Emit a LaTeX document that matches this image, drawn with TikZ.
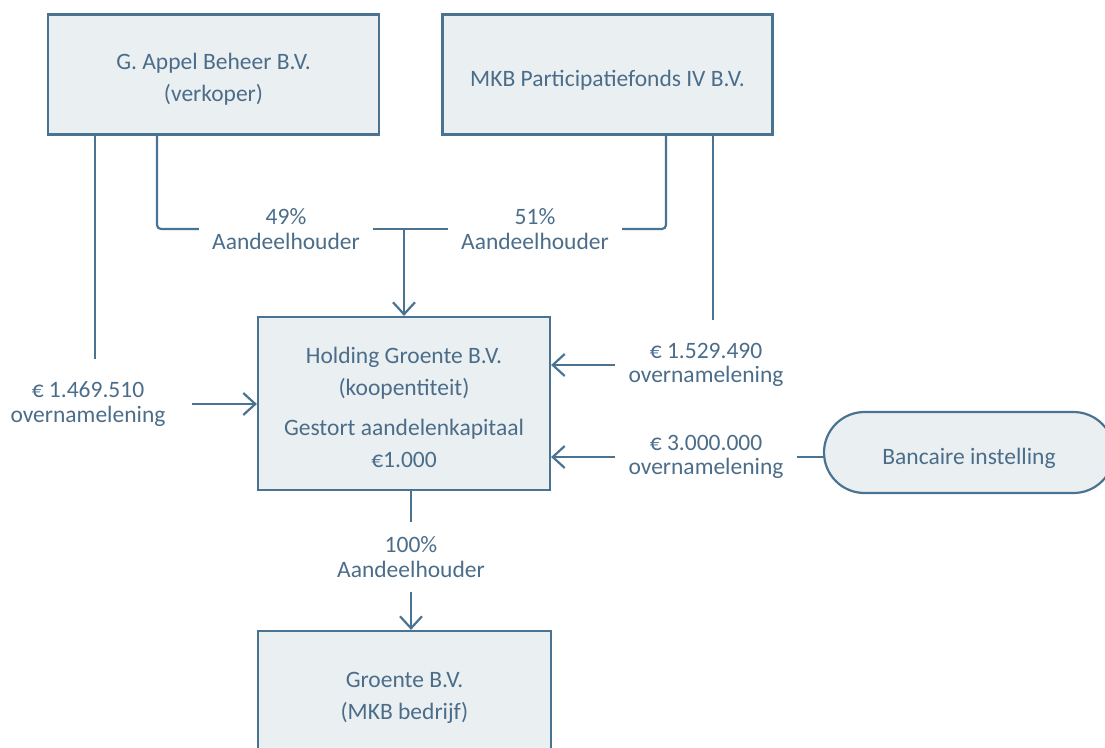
\documentclass[tikz,border=0pt]{standalone}
\usepackage{fontspec}
\setmainfont{Carlito}
\usepackage{tikz}
\usetikzlibrary{arrows.meta, positioning}
\usepackage{xcolor}
\definecolor{lijn}{HTML}{4A7392}
\definecolor{vul}{HTML}{EAEFF2}
\definecolor{tekst}{HTML}{4B6D89}

\begin{document}
\begin{tikzpicture}[x=1pt,y=-1pt,
	blok/.style={draw=lijn, fill=vul, line width=2.2pt},
	bloktekst/.style={text=tekst, align=center, font=\fontsize{23.5pt}{32pt}\selectfont},
	bijschrift/.style={text=tekst, align=center, inner xsep=13pt, inner ysep=14pt, font=\fontsize{23.5pt}{24.5pt}\selectfont},
	lijnstuk/.style={draw=lijn, line width=2.2pt},
	pijl/.style={lijnstuk, -{Straight Barb[length=12pt,width=22pt]}}]
				\path[use as bounding box, clip] (0,0) rectangle (1105,747);
				\node[blok, minimum width=331pt, minimum height=120pt] (appel) at (213.5,74.5) {};
				\node[blok, minimum width=330pt, minimum height=120pt] (mkb) at (607.5,74.5) {};
				\node[blok, minimum width=292pt, minimum height=173pt] (holding) at (404,403.5) {};
				\node[blok, minimum width=293pt, minimum height=128pt] (groente) at (404.5,695) {};
				\node[blok, rounded corners=40.5pt, minimum width=290pt, minimum height=81pt] (bank) at (969,452.5) {};
				\node[bloktekst] (appeltekst) at ([yshift=-5pt]appel.center) {G. Appel Beheer B.V.\\(verkoper)};
				\node[bloktekst] (mkbtekst) at ([yshift=-6pt]mkb.center) {MKB Participatiefonds IV B.V.};
				\node[bloktekst] (holdingtekst) at ([yshift=-3.5pt]holding.center) {Holding Groente B.V.\\(koopentiteit)\\[8pt]Gestort aandelenkapitaal\\€1.000};
				\node[bloktekst] (groentetekst) at ([yshift=-2.5pt]groente.center) {Groente B.V.\\(MKB bedrijf)};
				\node[bloktekst] (banktekst) at ([yshift=-6pt]bank.center) {Bancaire instelling};
				\node[bijschrift] (aand49) at (286,229) {49\%\\Aandeelhouder};
				\node[bijschrift] (aand51) at (535,229) {51\%\\Aandeelhouder};
				\node[bijschrift] (lening1) at (88,404) {€ 1.469.510\\overnamelening};
				\node[bijschrift] (lening2) at (706,365) {€ 1.529.490\\overnamelening};
				\node[bijschrift] (lening3) at (706,457) {€ 3.000.000\\overnamelening};
				\node[bijschrift] (aand100) at (411,557) {100\%\\Aandeelhouder};
				\coordinate (eind1) at (95,359);
				\coordinate (eind2) at (713,320);
				\draw[lijnstuk] (appel.south -| eind1) -- (eind1);
				\draw[lijnstuk, rounded corners=4pt] ([xshift=-56.5pt]appel.south) |- (aand49.west);
				\draw[lijnstuk] (aand49.east) -- (aand51.west);
				\draw[pijl] (holding.north |- aand49.east) -- (holding.north);
				\draw[lijnstuk, rounded corners=4pt] (aand51.east) -| ([xshift=58.5pt]mkb.south);
				\draw[lijnstuk] (mkb.south -| eind2) -- (eind2);
				\draw[pijl] ([xshift=13pt]lening1.east) -- (lening1.east -| holding.west);
				\draw[pijl] (lening2.west) -- (lening2.west -| holding.east);
				\draw[pijl] (lening3.west) -- (lening3.west -| holding.east);
				\draw[lijnstuk] (lening3.east) -- (lening3.east -| bank.west);
				\draw[lijnstuk] (holding.south -| aand100.north) -- (aand100.north);
				\draw[pijl] (aand100.south) -- (aand100.south |- groente.north);
\end{tikzpicture}
\end{document}
